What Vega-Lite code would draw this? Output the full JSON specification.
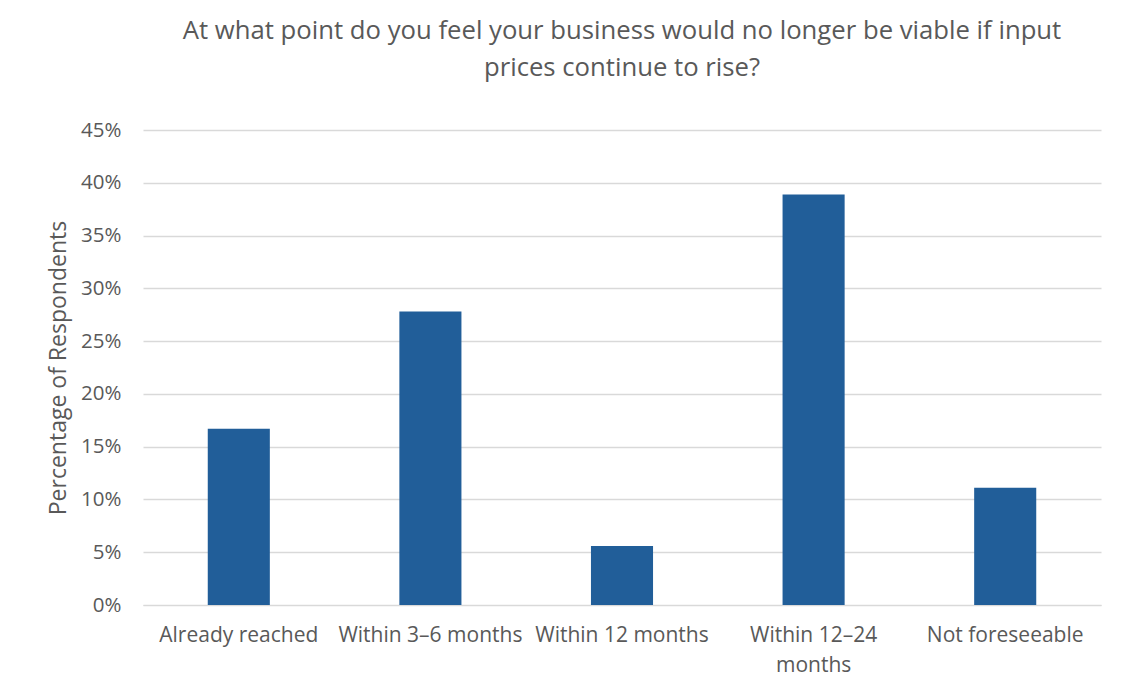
{
  "$schema": "https://vega.github.io/schema/vega-lite/v6.json",
  "width": 958,
  "height": 475,
  "autosize": {"type": "none"},
  "padding": {"left": 143, "top": 130, "right": 25, "bottom": 88},
  "background": "white",
  "title": {
    "text": ["At what point do you feel your business would no longer be viable if input", "prices continue to rise?"],
    "font": "Open Sans",
    "fontSize": 25.7,
    "fontWeight": "normal",
    "color": "#595959",
    "lineHeight": 37,
    "anchor": "middle",
    "offset": 38
  },
  "data": {
    "values": [
      {"category": "Already reached", "value": 0.167},
      {"category": "Within 3–6 months", "value": 0.278},
      {"category": "Within 12 months", "value": 0.056},
      {"category": "Within 12–24 months", "value": 0.389},
      {"category": "Not foreseeable", "value": 0.111}
    ]
  },
  "mark": {"type": "bar", "color": "#215E99"},
  "encoding": {
    "x": {
      "field": "category",
      "type": "nominal",
      "sort": null,
      "scale": {"paddingInner": 0.676, "paddingOuter": 0.338},
      "axis": {
        "title": null,
        "labelAngle": 0,
        "labelFont": "Open Sans",
        "labelFontSize": 21,
        "labelColor": "#595959",
        "labelPadding": 19,
        "labelLineHeight": 30,
        "labelLimit": 300,
        "ticks": false,
        "domain": true,
        "domainColor": "#D9D9D9",
        "labelExpr": "datum.label == 'Within 12–24 months' ? ['Within 12–24', 'months'] : datum.label"
      }
    },
    "y": {
      "field": "value",
      "type": "quantitative",
      "scale": {"domain": [0, 0.45], "nice": false},
      "axis": {
        "title": "Percentage of Respondents",
        "titleFont": "Open Sans",
        "titleFontSize": 23,
        "titleFontWeight": "normal",
        "titleColor": "#595959",
        "titlePadding": 10,
        "format": ".0%",
        "values": [0, 0.05, 0.1, 0.15, 0.2, 0.25, 0.3, 0.35, 0.4, 0.45],
        "labelFont": "Open Sans",
        "labelFontSize": 20.5,
        "labelColor": "#595959",
        "labelPadding": 22,
        "ticks": false,
        "domain": false,
        "gridColor": "#D9D9D9",
        "gridWidth": 1.3
      }
    }
  },
  "config": {"view": {"stroke": null}}
}
